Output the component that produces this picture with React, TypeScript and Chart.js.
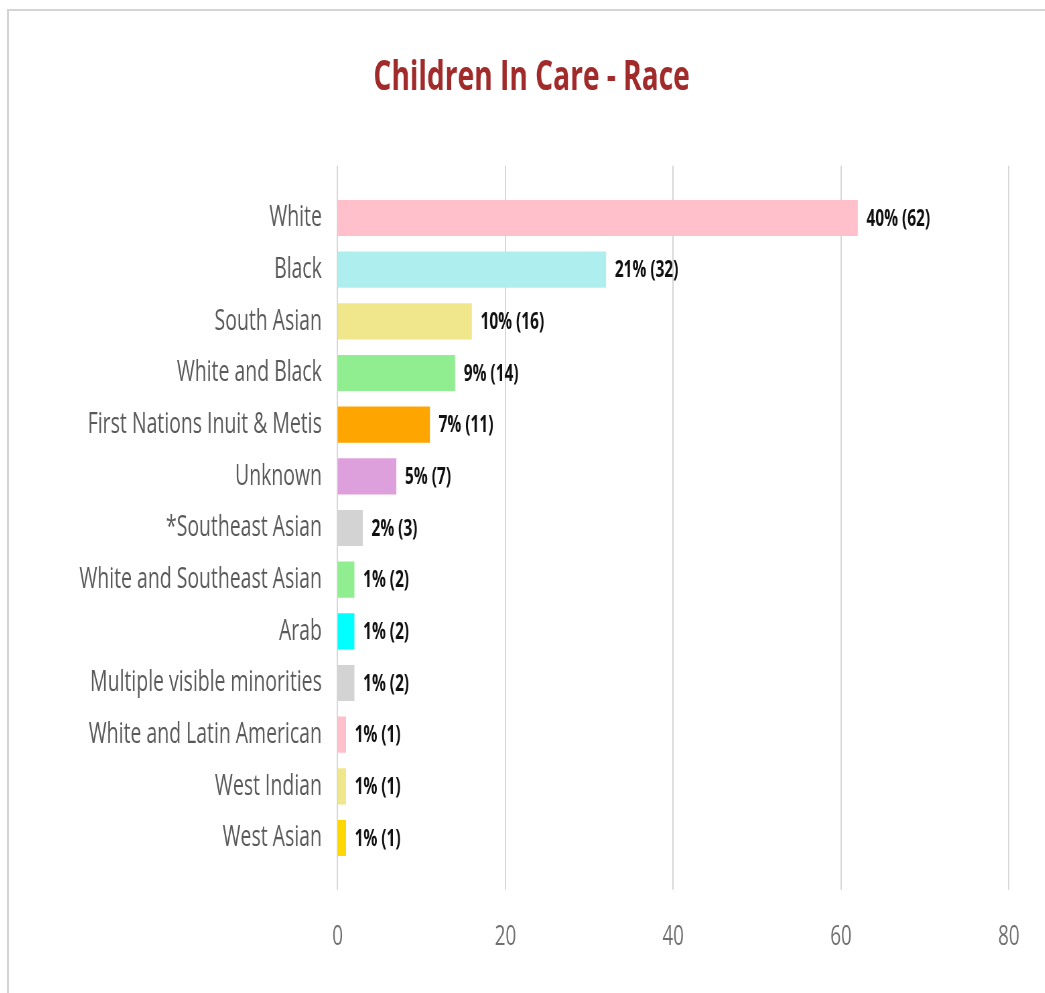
import React, { useEffect, useRef } from "react";
import { Chart, registerables } from "chart.js";

Chart.register(...registerables);

const categories = [
  "White",
  "Black",
  "South Asian",
  "White and Black",
  "First Nations Inuit & Metis",
  "Unknown",
  "*Southeast Asian",
  "White and Southeast Asian",
  "Arab",
  "Multiple visible minorities",
  "White and Latin American",
  "West Indian",
  "West Asian",
];
const counts = [62, 32, 16, 14, 11, 7, 3, 2, 2, 2, 1, 1, 1];
const percents = [40, 21, 10, 9, 7, 5, 2, 1, 1, 1, 1, 1, 1];
const barColors = [
  "#ffc0cb",
  "#afeeee",
  "#f0e68c",
  "#90ee90",
  "#ffa500",
  "#dda0dd",
  "#d3d3d3",
  "#90ee90",
  "#00ffff",
  "#d3d3d3",
  "#ffc0cb",
  "#f0e68c",
  "#ffd700",
];
const xMin = 0;
const xMax = 80;
const xStep = 20;
const titleText = "Children In Care - Race";

// horizontal squeeze of the whole drawing (reference text is condensed)
const SX = 0.67;
const W = 1560;
const H = 990;

const FONT = "'Open Sans', 'DejaVu Sans', sans-serif";

const gridPlugin = {
  id: "extendedGrid",
  beforeDatasetsDraw(chart: any) {
    const { ctx, chartArea, scales } = chart;
    const xs = scales.x;
    ctx.save();
    ctx.strokeStyle = "#d6d6d6";
    ctx.lineWidth = 2;
    xs.ticks.forEach((t: any) => {
      const x = Math.round(xs.getPixelForValue(t.value));
      ctx.beginPath();
      ctx.moveTo(x, chartArea.top - 26.5);
      ctx.lineTo(x, chartArea.bottom + 26);
      ctx.stroke();
    });
    ctx.restore();
  },
};

const valueLabelPlugin = {
  id: "valueLabels",
  afterDatasetsDraw(chart: any) {
    const { ctx } = chart;
    const meta = chart.getDatasetMeta(0);
    ctx.save();
    ctx.font = `bold 23px ${FONT}`;
    ctx.fillStyle = "#111111";
    ctx.textAlign = "left";
    ctx.textBaseline = "middle";
    meta.data.forEach((bar: any, i: number) => {
      ctx.fillText(`${percents[i]}% (${counts[i]})`, bar.x + 13, bar.y + 1);
    });
    ctx.restore();
  },
};

export default function App() {
  const ref = useRef<HTMLCanvasElement | null>(null);

  useEffect(() => {
    document.body.style.overflow = "hidden";
    document.documentElement.style.overflow = "hidden";
    if (!ref.current) return;
    const rightPad = W - (1008.8 - 9) / SX;
    const chart = new Chart(ref.current, {
      type: "bar",
      data: {
        labels: categories,
        datasets: [
          {
            data: counts,
            backgroundColor: barColors,
            borderWidth: 0,
            barPercentage: 0.7,
            categoryPercentage: 1,
          },
        ],
      },
      options: {
        indexAxis: "y",
        responsive: false,
        animation: false,
        devicePixelRatio: 1,
        layout: { padding: 0 },
        plugins: {
          legend: { display: false },
          tooltip: { enabled: false },
          title: {
            display: true,
            text: titleText,
            color: "#a12a2a",
            font: { family: FONT, size: 42, weight: "bold", lineHeight: 1.2 },
            padding: { top: 42, bottom: 88.8 },
          },
        },
        scales: {
          x: {
            type: "linear",
            min: xMin,
            max: xMax,
            ticks: {
              stepSize: xStep,
              color: "#707070",
              padding: 48,
              font: { family: FONT, size: 28 },
            },
            grid: { display: false },
            border: { display: false },
            afterFit(scale: any) {
              scale.height = H - 852.8;
              scale.paddingLeft = 0;
              scale.paddingRight = rightPad;
            },
          },
          y: {
            type: "category",
            ticks: {
              color: "#5a5a5a",
              padding: 15.5,
              font: { family: FONT, size: 29 },
              autoSkip: false,
            },
            grid: { display: false },
            border: { display: false },
            afterFit(scale: any) {
              scale.width = (337.6 - 9) / SX;
              scale.paddingTop = 0;
              scale.paddingBottom = 0;
            },
          },
        },
      },
      plugins: [gridPlugin, valueLabelPlugin],
    } as any);
    return () => chart.destroy();
  }, []);

  return (
    <div
      style={{
        position: "absolute",
        left: 7,
        top: 9,
        width: 1200,
        height: 1100,
        border: "2px solid #d4d4d4",
        boxSizing: "border-box",
        background: "#ffffff",
        overflow: "hidden",
      }}
    >
      <div
        style={{
          width: W,
          height: H,
          transform: `scaleX(${SX})`,
          transformOrigin: "0 0",
        }}
      >
        <canvas ref={ref} width={W} height={H} style={{ display: "block" }} />
      </div>
    </div>
  );
}
